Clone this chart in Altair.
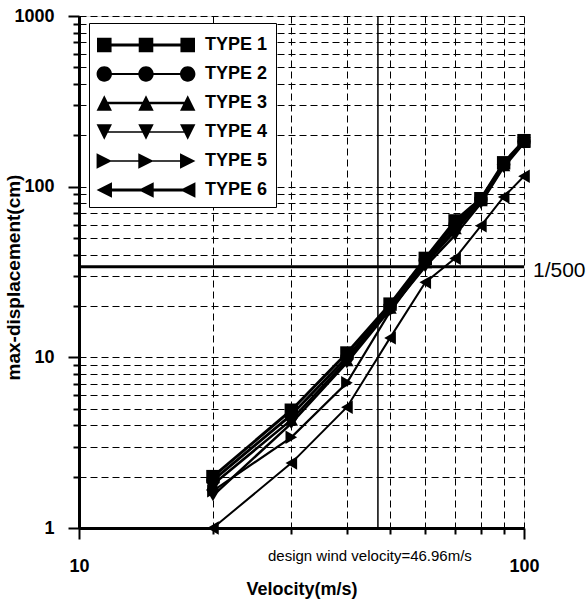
import altair as alt
import pandas as pd

velocity = [20, 30, 40, 50, 60, 70, 80, 90, 100]
type1 = [2.0, 4.9, 10.6, 20.5, 38, 63, 85, 138, 186]
type2 = [1.9, 4.6, 10.0, 20.0, 37, 60, 84, 135, 184]
type3 = [1.8, 4.3, 9.6, 19.5, 36, 57, 83, 133, 182]
type4 = [1.55, 4.1, 9.3, 19.0, 34, 52, 80, 130, 180]
type5 = [1.65, 3.4, 7.1, 18.5, 35, 55, 81, 132, 183]
type6 = [1.0, 2.4, 5.1, 13.0, 27.5, 38, 59, 87, 115]
series_names = ["TYPE 1", "TYPE 2", "TYPE 3", "TYPE 4", "TYPE 5", "TYPE 6"]
series_values = [type1, type2, type3, type4, type5, type6]
x_ticks = [10, 20, 30, 40, 50, 60, 70, 80, 90, 100]
y_ticks = [1, 2, 3, 4, 5, 6, 7, 8, 9, 10, 20, 30, 40, 50, 60, 70, 80, 90,
           100, 200, 300, 400, 500, 600, 700, 800, 900, 1000]
design_velocity = 46.96
limit_disp = 34
limit_label = "1/500"
design_label = "design wind velocity=46.96m/s"

rows = []
for name, vals in zip(series_names, series_values):
    for v, d in zip(velocity, vals):
        rows.append({"v": v, "d": d, "series": name})
df = pd.DataFrame(rows)
single = pd.DataFrame({"one": [1]})

# legend symbols: line with three markers, as custom SVG paths
# unit = 14px (symbolSize 784); path spans x from -1 to 6
H = 0.52
def line_rect(t):
    return f"M-0.48,{-t}L5.48,{-t}L5.48,{t}L-0.48,{t}Z"

def sq(cx, h=H):
    return f"M{cx-h},{-h}L{cx+h},{-h}L{cx+h},{h}L{cx-h},{h}Z"

def circ(cx, r=0.55):
    return f"M{cx-r},0A{r},{r} 0 1,1 {cx+r},0A{r},{r} 0 1,1 {cx-r},0Z"

def tri_up(cx, h=0.55):
    return f"M{cx},{-h}L{cx+h},{h}L{cx-h},{h}Z"

def tri_down(cx, h=0.55):
    return f"M{cx},{h}L{cx-h},{-h}L{cx+h},{-h}Z"

def tri_right(cx, h=0.55):
    return f"M{cx+h},0L{cx-h},{h}L{cx-h},{-h}Z"

def tri_left(cx, h=0.55):
    return f"M{cx-h},0L{cx+h},{-h}L{cx+h},{h}Z"

centers = [-0.48, 2.5, 5.48]
legend_paths = [
    line_rect(0.11) + "".join(sq(c) for c in centers),
    line_rect(0.08) + "".join(circ(c) for c in centers),
    line_rect(0.09) + "".join(tri_up(c) for c in centers),
    line_rect(0.045) + "".join(tri_down(c) for c in centers),
    line_rect(0.045) + "".join(tri_right(c) for c in centers),
    line_rect(0.11) + "".join(tri_left(c) for c in centers),
]
shapes = ["square", "circle", "triangle-up", "triangle-down", "triangle-right", "triangle-left"]
widths = [3, 2, 2.5, 1, 1, 3]

font = "Liberation Sans"
major_test = "abs(log(datum.value)/LN10 - round(log(datum.value)/LN10)) < 1e-6"
label_expr = f"({major_test}) ? format(datum.value, 'd') : ''"

x_enc = alt.X("v:Q", scale=alt.Scale(type="log", domain=[10, 100], nice=False),
              axis=alt.Axis(values=x_ticks, labelExpr=label_expr,
                            grid=True, gridDash=[7, 4], gridColor="black", gridWidth=1,
                            tickColor="black", tickWidth=2,
                            tickSize={"condition": {"test": major_test, "value": 11}, "value": 6},
                            domainColor="black", domainWidth=3,
                            labelFont=font, labelFontSize=18, labelFontWeight="bold",
                            labelColor="black", labelPadding=18, labelFlush=False,
                            labelOverlap=False,
                            title="Velocity(m/s)", titleFont=font,
                            titleFontSize=18, titleFontWeight="bold", titleColor="black",
                            titleY=61, titleBaseline="middle"))
y_enc = alt.Y("d:Q", scale=alt.Scale(type="log", domain=[1, 1000], nice=False),
              axis=alt.Axis(values=y_ticks, labelExpr=label_expr,
                            grid=True, gridDash=[7, 4], gridColor="black", gridWidth=1,
                            tickColor="black", tickWidth=2,
                            tickSize={"condition": {"test": major_test, "value": 11}, "value": 6},
                            domainColor="black", domainWidth=3,
                            labelFont=font, labelFontSize=18, labelFontWeight="bold",
                            labelColor="black", labelPadding=14, labelFlush=False,
                            labelOverlap=False,
                            title="max-displacement(cm)", titleFont=font,
                            titleFontSize=19, titleFontWeight="bold", titleColor="black",
                            titleX=-66, titleY=261, titleAngle=270,
                            titleAlign="center", titleBaseline="middle"))

base = alt.Chart(df)

lines = base.mark_line(color="black").encode(
    x=x_enc, y=y_enc,
    detail="series:N",
    strokeWidth=alt.StrokeWidth("series:N", scale=alt.Scale(domain=series_names, range=widths), legend=None),
)

points = base.mark_point(filled=True, color="black", size=180, opacity=1).encode(
    x="v:Q", y="d:Q",
    shape=alt.Shape("series:N", scale=alt.Scale(domain=series_names, range=shapes), legend=None),
)

legend_layer = base.transform_filter("datum.v < 0").transform_calculate(
    legend_series="datum.series"
).mark_point(filled=True, color="black", opacity=1).encode(
    x="v:Q", y="d:Q",
    shape=alt.Shape("legend_series:N",
                    scale=alt.Scale(domain=series_names, range=legend_paths),
                    legend=alt.Legend(title=None, orient="none", legendX=10, legendY=7,
                                      padding=8, strokeColor="black", fillColor="white",
                                      symbolSize=784, symbolStrokeWidth=0,
                                      symbolFillColor="black",
                                      labelFont=font, labelFontSize=18,
                                      labelFontWeight="bold", labelColor="black",
                                      labelOffset=80, rowPadding=6)),
)

hrule = alt.Chart(single).mark_rule(color="black", strokeWidth=3).encode(
    y=alt.datum(limit_disp)
)
vrule = alt.Chart(single).mark_rule(color="black", strokeWidth=1.5).encode(
    x=alt.datum(design_velocity)
)
limit_text = alt.Chart(single).mark_text(
    text=limit_label, align="left", baseline="middle", dx=9, dy=4,
    font=font, fontSize=21, color="black"
).encode(x=alt.datum(100), y=alt.datum(limit_disp))
design_text = alt.Chart(single).mark_text(
    text=design_label, align="center", baseline="middle", dx=-8, dy=28,
    font=font, fontSize=15, color="black"
).encode(x=alt.datum(design_velocity), y=alt.datum(1))

chart = alt.layer(lines, points, hrule, vrule, limit_text, design_text, legend_layer).resolve_scale(
    shape="independent"
).properties(
    width=445, height=512,
    autosize=alt.AutoSizeParams(type="none"),
    padding={"left": 79, "top": 16, "right": 64, "bottom": 73},
).configure_view(stroke="black", strokeWidth=3).configure(background="white")

chart.save("out.html", embed_options={"renderer": "svg", "actions": False})
